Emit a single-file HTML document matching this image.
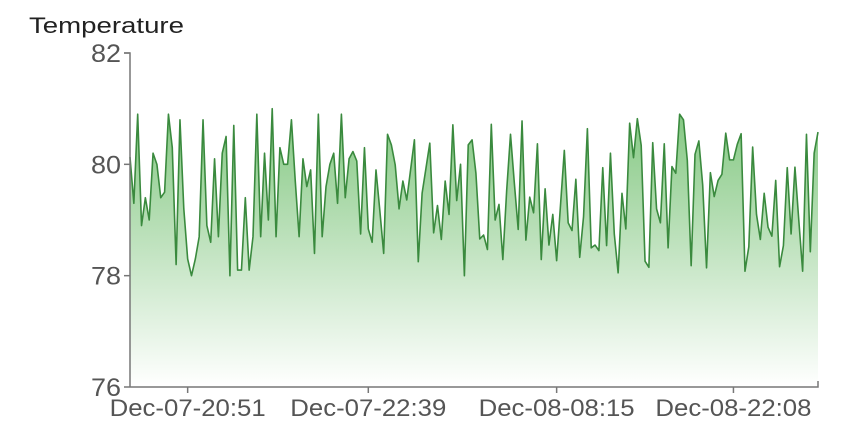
<!DOCTYPE html>
<html><head><meta charset="utf-8"><style>
body{margin:0;background:#fff;width:846px;height:436px;overflow:hidden;font-family:"Liberation Sans",sans-serif}
</style></head><body>
<svg id="chart" width="846" height="436" xmlns="http://www.w3.org/2000/svg">
<defs><linearGradient id="fillGrad" x1="0" y1="0" x2="0" y2="1">
<stop offset="0" stop-color="#7cc47a" stop-opacity="0.95"/>
<stop offset="1" stop-color="#7cc47a" stop-opacity="0"/>
</linearGradient></defs>
<text x="29" y="33" font-size="22" fill="#222" textLength="155" lengthAdjust="spacingAndGlyphs">Temperature</text>
<g id="plot"></g>
</svg>
<script>
const values = [80.13,79.3,80.9,78.9,79.4,79.0,80.2,80.0,79.4,79.5,80.9,80.3,78.2,80.8,79.2,78.3,78.0,78.3,78.7,80.8,78.9,78.6,80.1,78.7,80.2,80.5,78.0,80.7,78.1,78.1,79.4,78.1,78.7,80.9,78.7,80.2,79.0,81.0,78.7,80.3,80.0,80.0,80.8,79.7,78.7,80.1,79.6,79.9,78.4,80.9,78.7,79.6,80.0,80.2,79.3,80.9,79.4,80.1,
80.23,80.06,78.75,80.3,78.84,78.6,79.9,79.17,78.4,80.54,80.35,79.99,79.2,79.7,79.36,79.9,80.44,78.25,79.48,79.93,80.38,78.77,79.26,78.65,79.7,79.1,80.71,79.35,80.0,78.0,80.35,80.44,79.84,78.66,78.73,78.47,80.72,79.0,79.28,78.29,79.53,80.54,79.66,78.83,80.78,78.64,79.41,79.13,80.37,78.29,79.56,78.55,79.1,78.27,79.26,80.25,78.95,78.81,79.73,
78.33,79.06,80.64,78.5,78.55,78.45,79.94,78.54,80.2,78.75,78.05,79.48,78.84,80.74,80.12,80.82,80.34,78.26,78.15,80.39,79.2,78.95,80.37,78.5,79.96,79.84,80.9,80.8,80.07,78.18,80.18,80.42,79.63,78.14,79.85,79.42,79.71,79.82,80.56,80.08,80.08,80.36,80.55,78.08,78.52,80.31,79.1,78.65,79.48,78.87,78.71,79.71,78.16,78.54,79.94,78.75,79.95,79.0,78.08,80.54,78.43,80.2,80.58];
const yTicks = [76,78,80,82];
const xTickIndex = [15,62,111,157];
const xTickLabels = ["Dec-07-20:51","Dec-07-22:39","Dec-08-08:15","Dec-08-22:08"];

const NS="http://www.w3.org/2000/svg";
const X0=130,X1=818,Y0=387,Y1=53,VMIN=76,VMAX=82;
const xs=i=>X0+(X1-X0)*i/(values.length-1);
const ys=v=>Y0-(Y0-Y1)*(v-VMIN)/(VMAX-VMIN);
const g=document.getElementById('plot');
function mk(t,a){const e=document.createElementNS(NS,t);for(const k in a)e.setAttribute(k,a[k]);g.appendChild(e);return e;}
let d=values.map((v,i)=>(i?'L':'M')+xs(i).toFixed(2)+','+ys(v).toFixed(2)).join('');
const area=mk('path',{d:d+`L${X1},${Y0}L${X0},${Y0}Z`,fill:'url(#fillGrad)'});


const line=mk('path',{d:d,fill:'none',stroke:'#3a8a3e','stroke-width':1.6,'stroke-linejoin':'round'});


const ya=mk('path',{d:`M124,${Y1}H130V${Y0}`,fill:'none',stroke:'#777','stroke-width':1.5});


const xa=mk('path',{d:`M130,${Y0}H${X1}V${Y0-6}`,fill:'none',stroke:'#777','stroke-width':1.5});


yTicks.forEach(t=>{
  const y=ys(t);
  const tk=mk('line',{x1:124,x2:130,y1:y,y2:y,stroke:'#777','stroke-width':1.5});
  
  
  const tx=mk('text',{x:121,y:y+9,'text-anchor':'end','font-size':25,fill:'#555',textLength:30,lengthAdjust:'spacingAndGlyphs'});
  tx.textContent=t;
  
  
});
xTickIndex.forEach((idx,k)=>{
  const x=xs(idx);
  const tk=mk('line',{x1:x,x2:x,y1:Y0,y2:Y0+6,stroke:'#777','stroke-width':1.5});
  
  
  const tx=mk('text',{x:x,y:416,'text-anchor':'middle','font-size':24,fill:'#555',textLength:156,lengthAdjust:'spacingAndGlyphs'});
  tx.textContent=xTickLabels[k];
  
  
});
</script>
</body></html>
